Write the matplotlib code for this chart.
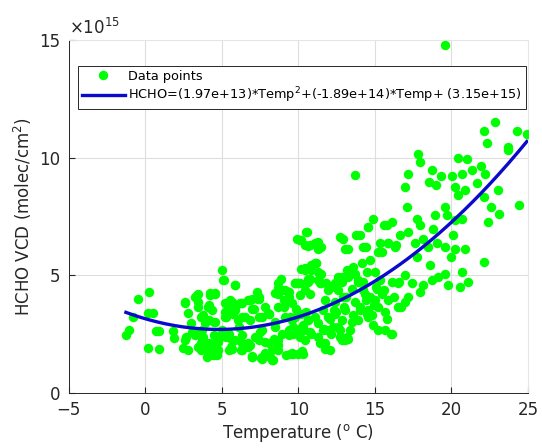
import numpy as np
import matplotlib.pyplot as plt

# HCHO VCD (x1e15 molec/cm2) vs temperature (deg C)
temp = [
    0.26, -0.46, -1.27, -1.05, -0.83, 0.15, 0.48, 0.70, 0.92, 0.15, 0.92, 1.79, 1.90, 2.45,
    2.56, 2.78, 3.00, 3.22, 3.44, 3.44, 3.22, 2.67, 3.65, 3.87, 3.65, 3.65, 4.09, 4.20, 4.53,
    5.01, 5.08, 5.84, 4.09, 4.42, 4.53, 4.86, 5.19, 5.51, 5.62, 5.30, 5.84, 6.28, 6.06, 5.30,
    5.62, 6.28, 6.83, 6.94, 7.59, 8.36, 8.25, 7.81, 6.94, 7.37, 7.81, 8.03, 8.47, 8.69, 8.86,
    9.34, 10.00, 10.11, 10.55, 10.66, 10.44, 10.77, 9.56, 10.22,
    5.65, 6.20, 5.44, 5.76, 5.22, 4.35, 4.13, 4.56, 3.69, 6.74, 7.40, 6.96, 6.52, 7.40, 8.05,
    8.49, 8.92, 8.70, 9.36, 9.03, 9.79, 9.58, 9.79, 9.14, 9.36, 3.80, 4.46, 4.78, 3.91, 5.44,
    5.87, 6.31, 5.65, 6.74, 7.18, 7.83, 8.38, 8.70, 6.96, 7.61, 8.16, 6.31, 4.78, 4.13, 9.47,
    9.68, 8.92, 7.51, 5.00, 6.09, 3.47,
    9.90, 10.42, 11.07, 11.29, 12.71, 13.03, 13.79, 14.23, 15.32, 15.21, 10.20, 10.85, 11.29,
    10.64, 9.76, 9.33, 9.22, 10.09, 10.75, 11.40, 11.95, 12.39, 12.82, 13.15, 13.59, 14.13,
    14.68, 14.46, 15.01, 13.91, 13.48, 12.93, 14.22, 14.68, 15.11, 15.32, 14.02, 14.46, 13.59,
    13.04, 12.49, 12.06, 11.62, 11.07, 10.53, 9.87, 9.44, 9.66, 10.31, 10.75, 10.09, 11.29,
    11.84, 12.28, 12.71, 13.15, 12.82, 13.48, 11.40, 11.73, 9.98, 9.22, 15.21, 15.64,
    22.86, 22.10, 22.30, 24.28, 24.93, 23.70, 23.73, 17.84, 17.95, 13.69, 18.71, 19.30, 18.54,
    18.97, 17.18, 17.00, 20.41, 21.00, 21.33, 21.94, 22.20, 20.07, 20.68, 20.24, 20.46, 20.90,
    21.66, 22.10, 23.03, 22.60, 23.08, 22.42, 24.39, 22.10, 17.07, 17.73, 17.95, 18.93, 18.82,
    19.59, 19.69, 20.24, 20.68, 20.13, 19.59, 20.24, 20.90, 19.98, 14.90, 14.56, 14.02, 12.93,
    13.25, 14.45, 15.76, 16.09, 16.64, 17.18, 15.87, 16.31, 15.44, 17.62, 18.17, 18.49, 19.04,
    17.73, 18.60, 19.15, 19.80, 20.57, 21.11, 20.68, 19.59, 18.71, 18.17, 17.95, 17.40, 16.97,
    16.53, 16.09, 17.18, 16.97, 16.53, 15.87, 15.65, 15.76, 16.09, 15.22, 14.78, 14.90, 14.45,
    14.34, 14.23, 13.69, 13.25, 12.82, 12.60, 12.16, 11.83, 11.50, 11.07, 10.85, 10.41, 10.09,
    10.63, 11.29, 11.72, 12.38, 13.14, 13.69, 14.02, 13.91, 13.36, 13.03, 13.25, 12.71, 12.16,
    11.72, 12.05, 11.62, 11.29, 10.85, 10.41, 10.30, 10.20, 10.63, 10.09, 12.38, 12.82, 14.56,
    15.00, 15.44, 10.52, 10.20, 10.74, 11.29, 11.50, 11.18,
    19.60,
    5.17, 5.87, 2.60, 3.37, 3.47, 4.24, 4.56, 4.13, 3.80, 4.46, 2.60, 3.04, 2.82, 3.69, 4.13,
    4.35, 4.67, 4.89, 5.22, 5.54, 5.87, 6.31, 6.85, 7.40, 7.07, 6.31, 6.85, 7.61, 8.05, 8.70,
    9.14, 9.36, 8.70, 9.03, 9.90, 10.45, 5.65, 6.31, 6.74, 6.96, 7.61, 8.27, 7.40, 8.05, 8.70,
    9.36, 9.68, 8.70, 3.47, 4.02, 4.56, 5.44, 6.09, 7.61, 8.49, 9.58, 10.23, 7.29,
    14.52, 15.60, 15.83, 16.37, 11.15, 10.72, 11.48, 12.57, 13.87, 15.07, 15.60, 16.26, 16.70,
    14.96, 13.00, 12.35, 11.91, 10.61, 10.39, 11.70, 12.57, 14.52, 16.04, 12.89, 11.59, 16.59,
]
hcho = [
    4.30, 4.01, 2.46, 2.68, 3.24, 3.38, 3.38, 2.61, 2.61, 1.90, 1.86, 2.61, 2.32, 1.90,
    3.83, 3.38, 2.96, 4.08, 4.20, 3.66, 2.46, 2.39, 3.24, 2.96, 2.11, 1.83, 3.66, 4.23, 4.23,
    5.24, 4.79, 4.58, 1.83, 1.62, 2.11, 2.39, 3.80, 3.94, 3.45, 3.24, 3.59, 3.80, 3.10, 2.39,
    1.97, 1.83, 2.04, 1.55, 1.48, 1.41, 1.83, 1.69, 4.01, 4.01, 3.66, 3.38, 4.23, 4.44, 4.82,
    4.30, 4.65, 6.51, 6.83, 6.23, 5.32, 4.86, 1.69, 1.76,
    3.87, 3.80, 3.51, 3.37, 3.23, 3.51, 3.09, 3.02, 2.66, 3.94, 4.00, 3.58, 3.23, 3.23, 3.37,
    3.02, 4.36, 4.65, 4.29, 3.94, 4.65, 3.80, 3.23, 3.23, 2.66, 2.38, 2.45, 2.17, 1.95, 2.52,
    2.24, 2.45, 1.88, 2.10, 2.38, 2.17, 2.31, 2.03, 1.53, 1.46, 1.53, 1.81, 1.81, 1.60, 1.67,
    2.52, 2.52, 2.59, 2.66, 2.80, 2.59,
    6.56, 6.27, 6.35, 6.13, 6.63, 6.13, 6.70, 6.20, 6.35, 5.99, 5.28, 5.42, 5.14,
    4.86, 4.65, 4.29, 3.87, 4.15, 4.22, 4.65, 4.36, 4.65, 4.93, 5.21, 5.35, 5.50,
    5.64, 5.14, 5.14, 4.79, 4.43, 4.08, 4.36, 4.08, 4.43, 4.79, 3.65, 3.37, 3.30,
    3.51, 3.44, 3.16, 3.51, 3.23, 3.44, 3.58, 3.23, 2.80, 2.88, 2.59, 2.38, 2.38,
    2.66, 2.80, 2.66, 2.38, 2.24, 3.02, 2.10, 1.88, 1.67, 1.60, 2.66, 2.66,
    11.52, 11.13, 10.62, 11.13, 11.00, 10.45, 10.30, 10.14, 9.82, 9.25, 9.46, 9.20, 8.97,
    8.82, 9.32, 8.73, 9.96, 9.92, 9.46, 9.63, 9.32, 9.20, 9.29, 8.73, 8.40, 8.61,
    8.90, 8.33, 8.64, 7.88, 7.62, 7.27, 7.97, 5.57, 7.90, 7.41, 7.12, 7.55, 6.98,
    7.90, 7.55, 7.34, 7.41, 6.70, 6.20, 6.13, 6.13, 5.78, 7.41, 7.05, 6.70, 6.56,
    6.13, 6.20, 7.12, 7.27, 6.70, 6.84, 6.35, 6.20, 5.99, 6.35, 6.56, 6.20, 6.35,
    5.78, 5.42, 4.93, 4.58, 4.50, 4.72, 5.14, 5.07, 4.79, 4.58, 4.29, 4.65, 5.00,
    4.65, 4.72, 4.08, 3.87, 3.65, 3.94, 3.44, 3.16, 2.52, 3.65, 3.30, 2.88, 3.94,
    4.22, 4.72, 5.07, 4.93, 4.72, 4.36, 4.50, 4.65, 5.07, 5.50, 5.21, 5.21, 4.65,
    4.72, 4.79, 3.94, 3.87, 4.08, 3.87, 3.51, 3.09, 2.66, 2.24, 2.31, 2.38, 2.52,
    2.10, 1.84, 2.66, 2.95, 2.52, 2.24, 1.67, 3.37, 3.09, 2.66, 3.37, 3.09, 3.51,
    3.94, 4.22, 6.84, 6.49, 6.27, 6.42, 6.20, 5.50,
    14.80,
    4.79, 4.58, 3.87, 4.15, 3.87, 4.15, 4.22, 3.73, 3.30, 3.02, 2.24, 2.60, 1.81, 2.31, 2.10,
    1.81, 1.60, 2.38, 3.44, 3.80, 3.51, 3.80, 3.94, 4.08, 3.58, 3.23, 3.09, 3.23, 3.37, 4.22,
    4.36, 4.08, 3.65, 3.65, 4.65, 4.36, 2.24, 2.10, 1.95, 1.53, 1.53, 1.39, 2.24, 2.10, 2.24,
    2.45, 1.67, 1.81, 1.95, 1.53, 1.67, 1.81, 2.80, 2.66, 2.80, 3.09, 2.80, 4.29,
    7.05, 7.12, 6.37, 6.27, 5.50, 4.79, 4.65, 4.93, 4.72, 4.50, 4.36, 4.08, 3.65,
    3.73, 3.65, 3.51, 3.23, 3.09, 2.66, 2.73, 2.80, 3.23, 2.52, 2.31, 2.10, 4.72,
]

# quadratic fit coefficients shown in the legend
p2, p1, p0 = 1.97e13, -1.89e14, 3.15e15

t = np.array(temp)
h = np.array(hcho) * 1e15
tt = np.linspace(t.min(), t.max(), 200)
fit = p2 * tt**2 + p1 * tt + p0

dark = '#262626'
plt.rcParams['font.family'] = 'DejaVu Sans'

fig = plt.figure(figsize=(5.42, 4.48), dpi=100)
ax = fig.add_axes([0.127, 0.123, 0.847, 0.788])

ax.plot(t, h / 1e15, 'o', color='#00ff00', markersize=6.8, markeredgewidth=0,
        label='Data points', zorder=3)
ax.plot(tt, fit / 1e15, color='#0a0acc', linewidth=2.4,
        label='HCHO=(1.97e+13)*Temp$^2$+(-1.89e+14)*Temp+ (3.15e+15)', zorder=4)

ax.set_xlim(-5, 25)
ax.set_ylim(0, 15)
ax.set_xticks(np.arange(-5, 26, 5))
ax.set_yticks([0, 5, 10, 15])
ax.grid(True, color='#dedede', linewidth=0.8)
ax.set_axisbelow(True)
ax.tick_params(direction='in', length=4, colors=dark, labelsize=12,
               top=False, right=False)
ax.tick_params(axis='x', pad=6)
ax.tick_params(axis='y', pad=6)
for s in ax.spines.values():
    s.set_color(dark)
    s.set_linewidth(0.7)
for s in ['top', 'right']:
    ax.spines[s].set_color('#e6e6e6')

ax.text(0.0, 1.005, r'$\times 10^{15}$', transform=ax.transAxes, fontsize=12,
        color=dark, ha='left', va='bottom')

ax.set_xlabel('Temperature ($^{\\rm o}$ C)', fontsize=12, color=dark, labelpad=2)
ax.set_ylabel('HCHO VCD (molec/cm$^2$)', fontsize=12, color=dark)

leg = ax.legend(loc='upper left', bbox_to_anchor=(0.02, 0.926), borderaxespad=0,
                fontsize=9.3, fancybox=False, edgecolor=dark, framealpha=1,
                handlelength=3.3, handletextpad=0.3, borderpad=0.3,
                labelspacing=0.2)
leg.get_frame().set_linewidth(0.7)

fig.savefig('out.png', dpi=100)
